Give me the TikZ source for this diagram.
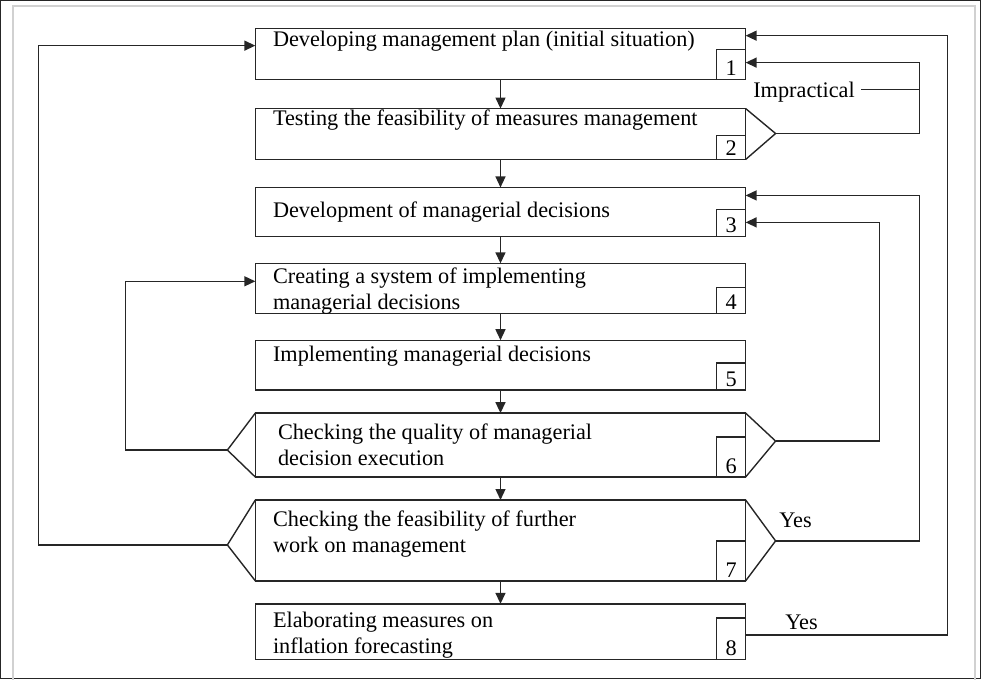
\documentclass[tikz,border=0pt]{standalone}
\usepackage{fontspec}
\setmainfont{Liberation Serif}
\usetikzlibrary{arrows.meta,calc}

\begin{document}
\begin{tikzpicture}[x=1pt,y=-1pt,
  line width=1.4pt,
  every path/.style={draw=black!85},
  box/.style={draw=black!85, rectangle, inner sep=0pt, outer sep=0pt,
    minimum width=491pt, line width=1.4pt},
  digit/.style={anchor=south, inner sep=3pt, font=\fontsize{22.3}{22}\selectfont},
  numbox/.style={draw=black!85, rectangle, inner sep=0pt, outer sep=0pt,
    minimum width=29pt, anchor=south east, line width=1.4pt,
    label={[digit]south:#1}},
  txt/.style={anchor=west, align=left, inner sep=0pt,
    font=\fontsize{22.3}{26}\selectfont},
  lbl/.style={inner sep=0pt, font=\fontsize{22.3}{26}\selectfont},
  arr/.style={-{Triangle[length=11pt,width=10pt]}}
]
\useasboundingbox (0,0) rectangle (981,679);

% outer frame
\draw[draw=black!18, line width=2pt] (12,690) -- (12,5) -- (976,5) -- (976,690);

% process boxes
\node[box, minimum height=51pt] (b1) at (500.5,53.5) {};
\node[box, minimum height=51pt] (b2) at (500.5,133.5) {};
\node[box, minimum height=49pt] (b3) at (500.5,211.5) {};
\node[box, minimum height=50pt] (b4) at (500.5,288) {};
\node[box, minimum height=50pt] (b5) at (500.5,365) {};
\node[box, minimum height=64pt] (b6) at (500.5,445) {};
\node[box, minimum height=81pt] (b7) at (500.5,540.5) {};
\node[box, minimum height=56pt] (b8) at (500.5,632) {};

% number boxes
\node[numbox={1}, minimum height=30pt] (n1) at (b1.south east) {};
\node[numbox={2}, minimum height=24pt] (n2) at (b2.south east) {};
\node[numbox={3}, minimum height=27pt] (n3) at (b3.south east) {};
\node[numbox={4}, minimum height=26pt] (n4) at (b4.south east) {};
\node[numbox={5}, minimum height=27pt] (n5) at (b5.south east) {};
\node[numbox={6}, minimum height=40pt] (n6) at (b6.south east) {};
\node[numbox={7}, minimum height=40pt] (n7) at (b7.south east) {};
\node[numbox={8}, minimum height=42pt] (n8) at (b8.south east) {};

% box texts
\node[txt] (t1) at (272,41) {Developing management plan (initial situation)};
\node[txt] (t2) at (272,120) {Testing the feasibility of measures management};
\node[txt] (t3) at (272,212) {Development of managerial decisions};
\node[txt] (t4) at (272,291) {Creating a system of implementing\\managerial decisions};
\node[txt] (t5) at (272,356) {Implementing managerial decisions};
\node[txt] (t6) at (277,445) {Checking the quality of managerial\\decision execution};
\node[txt] (t7) at (272,534) {Checking the feasibility of further\\work on management};
\node[txt] (t8) at (272,635) {Elaborating measures on\\inflation forecasting};

% decision points
\coordinate (a2) at (776,133);
\coordinate (a6r) at (776,441);
\coordinate (a6l) at (227,450);
\coordinate (a7r) at (776,541);
\coordinate (a7l) at (227,545);
\draw (b2.north east) -- (a2) -- (b2.south east);
\draw (b6.north east) -- (a6r) -- (b6.south east);
\draw (b6.north west) -- (a6l) -- (b6.south west);
\draw (b7.north east) -- (a7r) -- (b7.south east);
\draw (b7.north west) -- (a7l) -- (b7.south west);

% entry points on the box edges
\coordinate (p1l) at (255,45);
\coordinate (p1a) at (746,35);
\coordinate (p1b) at (746,62);
\coordinate (p3a) at (746,195);
\coordinate (p3b) at (746,222);
\coordinate (p4) at (255,281);
\coordinate (o8) at (746,635);

% vertical rails of the feedback loops
\coordinate (rL) at (38,0);
\coordinate (r4) at (125,0);
\coordinate (r6) at (880,0);
\coordinate (rI) at (920,0);
\coordinate (rO) at (948,0);

% main flow
\draw[arr] (b1) -- (b2);
\draw[arr] (b2) -- (b3);
\draw[arr] (b3) -- (b4);
\draw[arr] (b4) -- (b5);
\draw[arr] (b5) -- (b6);
\draw[arr] (b6) -- (b7);
\draw[arr] (b7) -- (b8);

% feedback loops
\draw[arr] (a2) -- (a2 -| rI) |- (p1b);
\draw[arr] (a6r) -- (a6r -| r6) |- (p3b);
\draw[arr] (a7r) -- (a7r -| rI) |- (p3a);
\draw[arr] (a6l) -- (a6l -| r4) |- (p4);
\draw[arr] (a7l) -- (a7l -| rL) |- (p1l);
\draw[arr] (o8) -- (o8 -| rO) |- (p1a);

% loop labels
\node[lbl, anchor=west] (imp) at (753,92) {Impractical};
\coordinate (impline) at (862,89);
\draw (impline) -- (impline -| rI);
\node[lbl] (yes7) at (796,520) {Yes};
\node[lbl] (yes8) at (802,622) {Yes};
\end{tikzpicture}
\end{document}
